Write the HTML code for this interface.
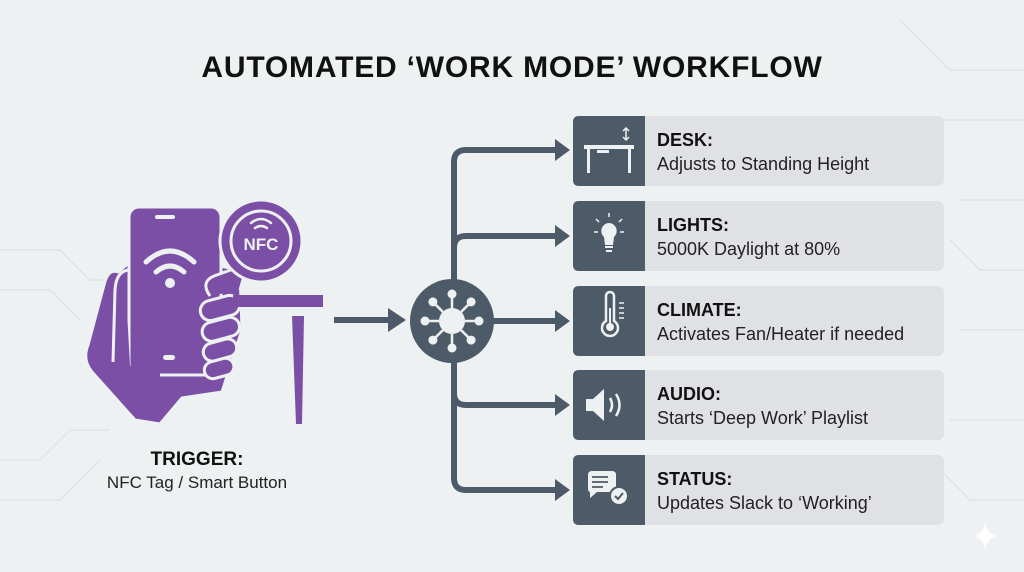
<!DOCTYPE html>
<html><head><meta charset="utf-8"><style>
html,body{margin:0;padding:0;width:1024px;height:572px;overflow:hidden;background:#eef1f2;font-family:"Liberation Sans",sans-serif}
</style></head><body>
<svg width="1024" height="572" viewBox="0 0 1024 572" xmlns="http://www.w3.org/2000/svg" font-family="Liberation Sans, sans-serif">
<rect width="1024" height="572" fill="#eef1f2"/>
<g stroke="#dfe3e6" stroke-width="1.5" fill="none">
<path d="M0 250 H60 L90 280 H130"/><path d="M0 290 H50 L80 320"/><path d="M0 460 H40 L70 430 H110"/>
<path d="M0 500 H60 L100 460"/><path d="M960 200 H1024"/><path d="M950 240 L980 270 H1024"/><path d="M960 330 H1024"/>
<path d="M900 20 L950 70 H1024"/><path d="M940 120 H1024"/><path d="M950 420 H1024"/><path d="M930 460 L970 500 H1024"/>
</g>
<text x="512" y="77" text-anchor="middle" font-size="30" font-weight="bold" fill="#111" letter-spacing="0.8">AUTOMATED ‘WORK MODE’ WORKFLOW</text>

<!-- hand/phone -->
<g fill="#7b4fa6" stroke="#eef1f2" stroke-width="3" stroke-linejoin="round">
<!-- hand body -->
<path d="M118 272 Q108 268 104 285 L88 345 Q82 360 92 372 L135 420 L160 424 L182 398 L222 392 L242 330 L240 270 L200 262 L130 262 Z"/>
<!-- phone -->
<rect x="129" y="207" width="92" height="168" rx="10"/>
<!-- thumb -->
<path d="M125 275 Q112 268 108 290 L104 360 Q104 378 118 378 L160 378 L160 366 L130 366 Z" stroke="none"/>
<path d="M128 270 Q116 272 115 290 L113 362" fill="none"/>
<!-- fingers -->
<rect x="200" y="298" width="40" height="20" rx="10" transform="rotate(-15 220 308)"/>
<rect x="202" y="320" width="38" height="19" rx="9.5" transform="rotate(-15 220 330)"/>
<rect x="203" y="341" width="34" height="18" rx="9" transform="rotate(-15 220 350)"/>
<rect x="204" y="360" width="30" height="17" rx="8.5" transform="rotate(-15 219 368)"/>
<path d="M210 296 Q200 282 214 276 L236 268 Q244 266 244 276 L240 290" />
<circle cx="261" cy="241" r="41"/>
</g>
<g fill="#7b4fa6">
<rect x="233" y="295" width="90" height="12"/>
<path d="M292 316 L304 316 L302 424 L296 424 Z"/>
</g>
<circle cx="261" cy="241" r="30" fill="none" stroke="#eef1f2" stroke-width="3"/>
<rect x="155" y="215" width="20" height="4" rx="2" fill="#eef1f2"/>
<rect x="163" y="355" width="12" height="5" rx="2.5" fill="#eef1f2"/>
<g fill="none" stroke="#eef1f2" stroke-width="5" stroke-linecap="round">
<path d="M146 262 Q170 240 194 262"/><path d="M156 272 Q170 260 184 272"/>
</g>
<circle cx="170" cy="283" r="5" fill="#eef1f2"/>
<g fill="none" stroke="#eef1f2" stroke-width="2.5" stroke-linecap="round">
<path d="M251 223 Q261 215 271 223"/><path d="M255 228 Q261 224 267 228"/>
</g>
<text x="261" y="250" text-anchor="middle" font-size="17" font-weight="bold" fill="#eef1f2">NFC</text>
<text x="197" y="465" text-anchor="middle" font-size="19" font-weight="bold" fill="#111">TRIGGER:</text>
<text x="197" y="488" text-anchor="middle" font-size="17" fill="#222">NFC Tag / Smart Button</text>

<!-- connectors -->
<g stroke="#4d5b69" stroke-width="6" fill="none">
<path d="M334 320 H390"/>
<path d="M555 150 H466 Q454 150 454 162 V478 Q454 490 466 490 H555"/>
<path d="M454 248 Q454 236 466 236 H555"/>
<path d="M454 393 Q454 405 466 405 H555"/>
<path d="M454 321 H555"/>
</g>
<g fill="#4d5b69">
<path d="M388 308 L406 320 L388 332 Z"/>
<path d="M555 139 L570 150 L555 161 Z"/><path d="M555 225 L570 236 L555 247 Z"/>
<path d="M555 310 L570 321 L555 332 Z"/><path d="M555 394 L570 405 L555 416 Z"/>
<path d="M555 479 L570 490 L555 501 Z"/>
<circle cx="452" cy="321" r="42"/>
</g>
<g fill="#eef1f2" stroke="#eef1f2" stroke-width="2.5">
<circle cx="452" cy="321" r="13" stroke="none"/>
<g id="sp"><line x1="452" y1="308" x2="452" y2="296"/><circle cx="452" cy="294" r="4.5" stroke="none"/></g>
<use href="#sp" transform="rotate(45 452 321)"/><use href="#sp" transform="rotate(90 452 321)"/>
<use href="#sp" transform="rotate(135 452 321)"/><use href="#sp" transform="rotate(180 452 321)"/>
<use href="#sp" transform="rotate(225 452 321)"/><use href="#sp" transform="rotate(270 452 321)"/>
<use href="#sp" transform="rotate(315 452 321)"/>
</g>

<!-- cards -->
<g>
<rect x="573" y="116" width="371" height="70" rx="6" fill="#e0e1e5"/>
<rect x="573" y="201" width="371" height="70" rx="6" fill="#e0e1e5"/>
<rect x="573" y="286" width="371" height="70" rx="6" fill="#e0e1e5"/>
<rect x="573" y="370" width="371" height="70" rx="6" fill="#e0e1e5"/>
<rect x="573" y="455" width="371" height="70" rx="6" fill="#e0e1e5"/>
<g fill="#4d5b69">
<path d="M579 116 H645 V186 H579 Q573 186 573 180 V122 Q573 116 579 116Z"/>
<path d="M579 201 H645 V271 H579 Q573 271 573 265 V207 Q573 201 579 201Z"/>
<path d="M579 286 H645 V356 H579 Q573 356 573 350 V292 Q573 286 579 286Z"/>
<path d="M579 370 H645 V440 H579 Q573 440 573 434 V376 Q573 370 579 370Z"/>
<path d="M579 455 H645 V525 H579 Q573 525 573 519 V461 Q573 455 579 455Z"/>
</g>
</g>
<g fill="#eef1f2" stroke="#eef1f2">
<rect x="584" y="145" width="50" height="4" stroke="none"/>
<rect x="587" y="149" width="3" height="24" stroke="none"/><rect x="628" y="149" width="3" height="24" stroke="none"/>
<rect x="597" y="150" width="12" height="3" stroke="none"/>
<path d="M626 128 V140 M623 131 L626 128 L629 131 M623 137 L626 140 L629 137" fill="none" stroke-width="1.5"/>
<path d="M609 223 a8 8 0 0 0-5 14 l1 8 h8 l1-8 a8 8 0 0 0-5-14z" stroke="none"/>
<rect x="605" y="246" width="8" height="2" stroke="none"/><rect x="606" y="250" width="6" height="2" stroke="none"/>
<path d="M609 213 v4 M596 219 l3 3 M622 219 l-3 3 M594 232 h4 M620 232 h4" stroke-width="1.5" fill="none"/>
<path d="M606 296 a4 4 0 0 1 8 0 v25 a8 8 0 1 1-8 0z" fill="none" stroke-width="2.5"/>
<circle cx="610" cy="327" r="4" stroke="none"/><rect x="609" y="308" width="2" height="18" stroke="none"/>
<path d="M619 303 h5 M619 308 h5 M619 313 h5 M619 318 h5" stroke-width="1.5"/>
<path d="M586 399 h7 l11-10 v32 l-11-10 h-7z" stroke="none"/>
<path d="M610 398 q4 7 0 14 M616 394 q7 11 0 22" fill="none" stroke-width="2.5"/>
<path d="M588 471 h24 q4 0 4 4 v13 q0 4-4 4 h-15 l-7 6 v-6 q-2 0-2-4 v-13 q0-4 4-4z" stroke="none"/>
<path d="M592 477 h16 M592 482 h16 M592 487 h11" stroke="#4d5b69" stroke-width="1.8"/>
<circle cx="619" cy="496" r="9" stroke="#4d5b69" stroke-width="2"/>
<path d="M615 496 l3 3 l5-6" fill="none" stroke="#4d5b69" stroke-width="2"/>
</g>
<g fill="#111" font-size="18">
<text x="657" y="146" font-weight="bold">DESK:</text><text x="657" y="170" fill="#222">Adjusts to Standing Height</text>
<text x="657" y="231" font-weight="bold">LIGHTS:</text><text x="657" y="255" fill="#222">5000K Daylight at 80%</text>
<text x="657" y="316" font-weight="bold">CLIMATE:</text><text x="657" y="340" fill="#222">Activates Fan/Heater if needed</text>
<text x="657" y="400" font-weight="bold">AUDIO:</text><text x="657" y="424" fill="#222">Starts ‘Deep Work’ Playlist</text>
<text x="657" y="485" font-weight="bold">STATUS:</text><text x="657" y="509" fill="#222">Updates Slack to ‘Working’</text>
</g>
<path d="M985 522 Q987 534 997 536 Q987 538 985 550 Q983 538 973 536 Q983 534 985 522Z" fill="#ffffff" opacity="0.9"/>
</svg>
</body></html>
